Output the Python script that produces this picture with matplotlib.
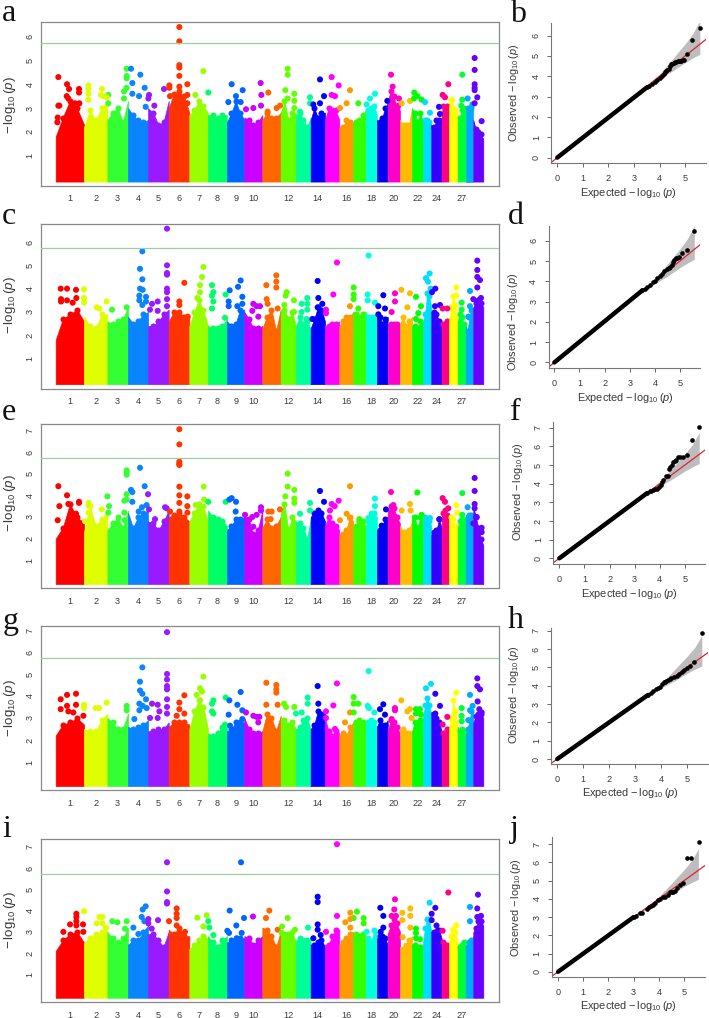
import numpy as np
import matplotlib
matplotlib.use('Agg')
import matplotlib.pyplot as plt

plt.rcParams['font.family'] = ['Liberation Sans', 'DejaVu Sans']
plt.rcParams['mathtext.fontset'] = 'custom'
plt.rcParams['mathtext.rm'] = 'Liberation Sans'
plt.rcParams['mathtext.it'] = 'Liberation Sans:italic'

# Chromosome edges along the genome axis (29 chromosomes)
chrom_edges = [167, 252, 322, 384, 444, 506, 568, 624, 681, 733, 787, 842, 888, 932, 975,
               1018, 1060, 1097, 1131, 1163, 1200, 1236, 1269, 1294, 1325, 1347, 1373,
               1397, 1420, 1450]
chrom_colors = ['#ff0000', '#dfff00', '#33ff33', '#0a84ff', '#9a1aff', '#ff3300', '#99ff00',
                '#00ff66', '#0066ff', '#cc00ff', '#ff6600', '#66ff00', '#00ff99', '#0000ff',
                '#ff00ff', '#ff9900', '#33ff00', '#00ffdd', '#0000ee', '#ff00cc', '#ffbb00',
                '#00ff00', '#00ddff', '#3300ff', '#ff0088', '#ffff00', '#00ff33', '#00aaff',
                '#6600ff']
tick_chroms = [1, 2, 3, 4, 5, 6, 7, 8, 9, 10, 12, 14, 16, 18, 20, 22, 24, 27]
threshold = 5.74

# Height of the solid mass at five places in each chromosome
skyline_a = [[1.8,2.6,3.3,3.0,2.3],[2.2,2.9,2.5,3.0,3.3],[2.5,2.8,3.0,2.4,3.3],[3.0,2.7,2.5,2.4,2.5],
             [3.0,2.8,2.3,2.4,3.3],[3.0,3.6,3.7,3.5,2.8],[2.7,2.9,3.3,3.1,2.8],[2.7,2.7,2.6,2.7,2.7],
             [2.4,2.8,3.3,2.8,2.5],[2.6,2.5,2.3,2.4,2.7],[2.5,2.8,2.6,2.6,2.8],[2.8,3.3,2.5,2.8,2.8],
             [2.7,2.8,2.5,2.2,2.6],[2.5,3.0,2.6,2.8,2.8],[2.5,3.0,2.9,2.9,2.5],[2.2,2.2,2.5,2.4,2.4],
             [2.4,2.4,2.5,2.7,2.9],[2.9,2.9,3.0,3.1,2.7],[2.5,2.4,2.6,3.0,3.2],[3.3,3.7,3.5,3.0,2.9],
             [2.5,2.3,2.3,2.3,3.0],[3.0,2.8,2.4,2.8,2.4],[2.4,2.5,2.5,2.4,2.3],[2.3,2.2,2.5,2.5,2.6],
             [2.8,3.1,3.0,3.1,3.0],[3.1,3.3,3.0,2.9,2.8],[2.4,2.6,2.9,3.0,2.9],[3.0,3.0,3.0,3.0,3.0],
             [2.5,2.1,2.0,1.9,1.7]]
skyline_c = [[1.8,2.7,2.9,3.1,2.6],[2.8,2.4,2.3,2.9,2.9],[2.6,2.5,2.6,2.7,3.2],[2.8,2.5,2.6,2.9,3.0],
             [2.4,2.4,2.6,2.9,3.1],[2.6,3.0,3.0,2.8,2.8],[2.4,3.0,3.5,3.1,2.4],[2.4,2.3,2.3,2.4,2.7],
             [2.6,2.4,2.5,3.1,3.1],[3.0,2.7,2.3,2.3,2.4],[2.3,2.8,3.1,2.2,3.1],[3.0,3.1,2.7,3.0,2.4],
             [2.4,2.8,2.5,2.6,2.3],[2.3,2.7,3.2,3.1,2.6],[2.4,2.4,2.5,2.5,2.6],[2.4,2.6,2.8,2.8,3.0],
             [3.0,2.9,2.8,2.9,3.0],[3.0,2.8,2.8,2.8,2.7],[2.9,2.8,2.5,2.7,2.8],[2.5,2.5,2.5,2.5,2.5],
             [2.5,2.8,2.4,2.6,2.8],[2.4,2.4,2.3,2.6,2.6],[2.6,2.9,3.8,3.7,3.2],[3.0,3.0,2.9,2.6,2.5],
             [2.3,2.5,2.5,2.6,2.6],[2.6,3.2,3.7,3.3,2.6],[2.6,2.9,2.8,2.5,2.4],[2.4,2.2,2.8,3.1,3.2],
             [3.2,3.4,3.4,3.4,3.2]]
skyline_e = [[2.0,2.5,3.6,3.0,2.7],[2.3,3.5,2.6,2.9,3.3],[2.4,2.7,3.0,2.5,3.3],[3.2,2.5,3.0,3.2,3.3],
             [2.8,2.7,2.4,2.8,3.3],[3.0,3.1,3.2,3.0,2.8],[2.8,3.2,3.6,3.5,2.8],[3.3,3.0,2.9,2.8,2.6],
             [2.4,2.6,2.9,2.9,3.0],[3.1,2.9,2.2,2.4,3.3],[2.5,2.9,2.5,2.6,3.0],[3.2,3.6,2.4,3.0,2.8],
             [2.8,2.7,2.5,2.0,2.9],[3.0,3.2,3.3,3.2,2.8],[2.6,3.0,2.7,2.6,2.4],[2.2,2.2,2.4,3.0,2.8],
             [2.6,2.6,2.8,2.8,2.6],[2.6,2.8,3.1,3.2,3.0],[2.4,2.4,2.6,2.9,3.0],[3.3,3.5,3.4,3.0,2.7],
             [2.6,2.3,2.3,2.4,2.8],[3.1,3.0,2.5,3.0,3.1],[3.0,3.0,2.8,2.8,2.6],[2.2,2.3,2.4,2.9,2.5],
             [3.0,3.2,3.3,3.1,3.0],[3.1,3.0,2.9,2.6,2.5],[2.5,2.8,2.9,2.8,2.8],[3.0,3.0,3.1,3.1,3.0],
             [3.5,3.0,2.5,2.0,1.7]]
skyline_g = [[2.2,2.7,2.8,3.0,2.7],[2.5,2.4,2.4,2.9,3.2],[3.0,2.8,2.5,2.5,3.2],[2.6,2.5,2.6,2.7,2.9],
             [2.4,2.4,2.5,2.5,2.8],[2.6,2.8,2.8,2.8,2.7],[2.5,3.3,3.8,3.5,2.5],[2.3,2.2,2.3,2.6,2.7],
             [2.4,2.5,2.8,2.8,2.8],[3.0,2.5,2.3,2.3,2.4],[2.4,3.2,3.0,2.4,3.1],[3.0,2.9,2.7,2.8,2.5],
             [2.5,2.6,2.9,3.0,2.5],[2.5,2.7,3.3,3.2,3.2],[3.0,2.4,2.2,2.4,2.3],[2.2,2.3,2.2,2.6,2.8],
             [2.8,2.8,2.9,2.8,2.8],[2.7,2.8,2.9,2.8,2.6],[2.6,2.9,2.7,2.7,2.9],[2.4,2.9,2.8,2.6,2.3],
             [2.5,2.5,2.3,2.3,2.4],[2.4,2.8,2.7,2.9,3.0],[3.0,3.6,3.9,3.6,3.0],[3.3,3.2,3.0,2.8,2.4],
             [2.2,2.3,2.3,2.5,2.5],[2.5,3.0,3.8,3.3,2.7],[2.6,2.4,2.5,2.4,2.3],[2.2,2.5,2.9,3.3,3.4],
             [2.8,3.1,3.2,3.2,3.0]]
skyline_i = [[2.1,2.6,2.9,3.0,2.5],[2.5,2.7,2.9,3.0,3.1],[3.0,2.7,2.5,2.7,3.2],[2.4,2.6,2.6,3.0,3.3],
             [2.9,2.9,2.6,2.3,3.0],[3.1,2.9,3.2,2.8,2.8],[2.2,2.4,2.6,2.8,2.7],[2.8,2.5,2.3,2.6,2.8],
             [2.5,2.6,2.6,2.7,2.7],[2.8,2.7,2.4,2.6,2.8],[3.2,3.1,2.8,2.3,3.0],[2.9,2.9,2.9,3.0,2.5],
             [2.6,2.7,2.6,2.6,2.7],[2.4,2.4,2.5,2.6,2.3],[2.4,2.4,2.8,3.1,3.1],[2.4,2.5,2.7,2.9,3.0],
             [2.9,2.9,2.8,2.9,2.8],[2.5,2.7,2.5,3.1,3.0],[2.7,2.8,2.8,2.7,2.4],[2.9,3.3,3.6,3.4,3.0],
             [2.3,2.2,2.4,2.6,2.8],[2.4,2.4,2.3,2.3,2.4],[2.5,3.2,3.6,3.6,3.0],[3.0,3.0,3.3,3.1,2.7],
             [2.6,2.5,2.4,2.4,2.5],[2.5,2.8,3.1,3.0,2.5],[2.3,2.3,2.4,2.5,2.6],[2.3,2.3,2.5,2.6,2.8],
             [3.0,3.2,3.5,3.5,3.3]]

# Isolated SNPs above the solid mass: (genome position, -log10 p)
peaks_a = [(175,4.3),(175,3.1),(178,3.1),(173,2.6),(172,2.4),(201,4.0),(207,3.8),(237,3.8),(237,3.65),
           (200,3.5),(205,3.4),(225,3.2),(238,3.2),(265,3.95),(265,3.8),(265,3.6),(265,3.35),(306,3.8),
           (303,3.55),(310,3.5),(325,3.55),(320,3.45),(325,3.2),(380,4.65),(380,4.35),(380,4.25),(380,3.85),
           (372,3.7),(372,3.4),(393,4.65),(397,4.05),(397,3.6),(421,4.4),(434,3.85),(417,3.5),(447,3.55),
           (445,3.4),(437,3.05),(463,3.1),(492,3.8),(508,3.95),(508,3.85),(510,3.5),(538,6.4),(538,5.8),
           (538,4.8),(538,4.7),(538,4.35),(538,3.9),(562,4.0),(562,3.55),(562,3.2),(610,4.55),(625,3.65),
           (586,3.55),(695,4.0),(685,3.25),(728,3.75),(708,3.5),(722,3.25),(782,4.05),(784,3.55),(783,3.1),
           (738,2.95),(760,3.0),(805,3.65),(840,3.1),(830,3.0),(803,2.85),(863,4.65),(863,4.4),(856,3.75),
           (863,3.4),(883,3.6),(883,3.3),(883,3.0),(930,3.45),(930,3.2),(900,2.85),(960,4.2),(972,3.5),
           (940,3.15),(960,3.2),(995,4.3),(1016,3.95),(995,3.55),(1005,3.5),(1050,3.75),(1040,3.2),(1020,3.0),
           (1075,3.2),(1125,3.6),(1110,3.4),(1100,3.15),(1173,4.4),(1178,3.9),(1162,3.3),(1197,3.4),(1195,3.1),
           (1205,3.2),(1230,3.3),(1243,3.65),(1252,3.5),(1265,3.35),(1242,3.4),(1275,3.25),(1290,2.8),
           (1317,3.05),(1320,2.75),(1328,3.55),(1335,3.45),(1345,4.0),(1355,3.35),(1387,4.4),(1387,3.35),
           (1384,3.1),(1403,3.4),(1417,3.15),(1424,5.1),(1424,4.6),(1424,4.0),(1424,3.85),(1424,3.75),
           (1432,3.45),(1424,3.2),(1445,2.45)]
peaks_c = [(182,4.0),(201,4.0),(228,3.95),(252,3.97),(183,3.55),(183,3.45),(201,3.5),(229,3.6),(252,3.6),
           (252,3.4),(218,3.4),(320,3.45),(290,3.2),(298,3.15),(336,3.1),(380,3.2),(427,5.6),(420,4.85),
           (427,4.4),(420,4.0),(428,3.95),(418,3.7),(438,3.65),(418,3.5),(438,3.45),(427,3.3),(456,3.35),
           (473,3.45),(450,3.1),(473,3.05),(501,6.57),(501,5.0),(501,4.67),(501,4.6),(501,4.0),(501,3.85),
           (501,3.55),(501,3.25),(553,4.25),(538,3.45),(538,3.3),(563,2.8),(610,4.93),(606,4.5),(600,4.15),
           (600,3.85),(592,3.6),(636,4.15),(640,3.85),(636,3.7),(640,3.45),(636,3.15),(677,3.75),(675,2.75),
           (689,3.93),(686,3.45),(686,3.25),(722,4.35),(714,4.08),(727,3.65),(727,3.35),(712,3.25),(760,3.35),
           (770,3.25),(780,3.25),(757,3.05),(775,2.8),(799,4.15),(800,3.55),(803,3.35),(829,4.57),(829,4.3),
           (829,4.05),(833,3.15),(860,3.85),(857,3.7),(853,3.3),(882,3.5),(882,3.0),(905,3.35),(922,3.6),
           (922,3.35),(922,3.1),(905,3.0),(920,2.7),(953,4.33),(955,3.6),(967,3.35),(953,3.2),(937,2.7),
           (978,3.1),(978,2.95),(1011,5.12),(1000,3.75),(1050,3.25),(1061,4.05),(1061,3.75),(1061,3.55),
           (1075,3.15),(1106,5.42),(1103,3.75),(1103,3.5),(1125,3.4),(1150,3.72),(1135,3.25),(1155,3.15),
           (1135,2.9),(1185,3.8),(1185,3.45),(1175,3.0),(1204,3.95),(1222,3.2),(1230,3.8),(1248,3.65),
           (1263,3.25),(1255,2.95),(1248,2.7),(1278,4.45),(1289,4.65),(1284,4.3),(1292,4.0),(1296,3.85),
           (1306,4.0),(1320,3.3),(1305,3.25),(1328,3.15),(1342,3.15),(1369,4.05),(1369,3.7),(1385,3.4),
           (1385,3.1),(1410,3.9),(1420,3.55),(1410,3.25),(1405,2.8),(1432,5.2),(1432,4.8),(1432,4.5),
           (1440,4.37),(1432,4.05),(1443,3.6),(1435,3.5)]
peaks_e = [(175,4.42),(178,3.5),(173,2.85),(201,4.0),(237,3.7),(237,3.65),(205,3.6),(228,3.15),(246,2.7),
           (266,3.65),(266,3.5),(266,3.2),(255,2.8),(272,2.9),(305,3.35),(322,3.95),(327,3.5),(325,3.2),
           (380,5.15),(380,5.05),(380,4.95),(380,4.05),(380,3.8),(373,3.75),(373,3.2),(373,2.85),(393,4.25),
           (397,4.15),(397,3.7),(420,5.27),(434,4.42),(444,4.05),(426,3.45),(416,3.25),(440,3.55),(447,3.35),
           (465,2.9),(495,3.45),(500,3.4),(510,3.25),(538,7.05),(538,6.35),(538,5.55),(538,5.45),(538,5.4),
           (538,4.4),(538,4.0),(538,3.65),(538,3.25),(562,3.95),(562,3.5),(562,3.2),(611,4.4),(612,3.8),
           (587,3.55),(625,3.7),(677,3.7),(688,3.8),(695,3.87),(708,3.7),(707,3.25),(735,3.1),(757,3.0),
           (770,3.1),(783,3.45),(783,3.3),(760,2.55),(805,3.25),(815,3.25),(840,3.35),(812,2.9),(863,5.0),
           (863,4.4),(856,3.95),(883,4.25),(883,3.85),(883,3.65),(900,3.15),(930,3.65),(930,3.3),(960,4.2),
           (972,3.7),(990,3.3),(995,3.6),(1004,3.5),(1016,3.75),(1020,2.85),(1050,4.42),(1040,3.15),(1050,2.95),
           (1078,2.9),(1125,3.85),(1125,3.5),(1115,3.15),(1105,2.95),(1158,3.35),(1145,2.6),(1173,4.15),
           (1180,3.55),(1205,3.3),(1230,3.6),(1232,3.3),(1252,4.13),(1265,3.1),(1290,2.95),(1318,2.9),
           (1328,3.87),(1335,3.7),(1345,3.4),(1369,3.55),(1372,3.2),(1387,4.1),(1387,3.1),(1403,3.45),
           (1424,4.8),(1424,4.2),(1424,3.6),(1424,3.4),(1430,3.0),(1445,2.5),(1445,2.3),(1420,2.7)]
peaks_g = [(182,3.85),(201,4.05),(228,4.1),(182,3.4),(201,3.55),(228,3.6),(205,3.3),(220,3.25),(252,3.6),
           (252,3.45),(250,3.1),(287,3.45),(297,3.45),(320,3.7),(380,3.55),(380,3.35),(403,2.95),(427,5.3),
           (420,4.65),(420,4.25),(427,4.1),(418,3.65),(438,3.85),(428,3.55),(440,3.45),(418,3.35),(456,3.65),
           (473,3.6),(450,3.0),(473,3.0),(478,3.3),(501,6.9),(501,5.0),(501,4.75),(501,4.45),(501,4.3),
           (501,3.85),(501,3.5),(501,3.2),(553,4.03),(538,3.7),(538,3.4),(553,3.2),(530,3.1),(610,4.88),
           (600,4.35),(606,4.2),(590,4.05),(600,3.8),(640,3.8),(636,3.65),(636,3.3),(640,3.2),(677,3.93),
           (688,3.8),(686,3.15),(675,2.7),(690,2.65),(722,4.18),(712,3.6),(727,3.35),(727,2.95),(760,3.1),
           (770,3.05),(778,3.05),(775,2.8),(738,3.25),(799,4.6),(799,3.6),(829,4.5),(829,4.3),(829,4.15),
           (833,3.6),(852,3.65),(858,3.5),(883,3.5),(888,3.2),(923,3.93),(923,3.65),(905,3.25),(953,4.45),
           (955,3.65),(978,3.3),(978,3.0),(1011,4.57),(1000,3.57),(1005,2.5),(1050,3.25),(1035,2.8),(1061,3.95),
           (1061,3.65),(1075,3.65),(1061,3.25),(1106,5.13),(1103,3.55),(1107,3.45),(1123,3.25),(1150,3.62),
           (1140,3.4),(1155,3.15),(1204,3.8),(1185,3.45),(1185,3.35),(1175,2.95),(1222,3.3),(1230,3.4),
           (1235,3.0),(1248,3.4),(1260,3.4),(1248,3.2),(1263,3.15),(1278,4.35),(1293,4.55),(1306,4.1),
           (1320,3.55),(1306,3.2),(1328,2.7),(1342,3.05),(1369,4.15),(1385,3.45),(1385,3.1),(1385,2.85),
           (1410,4.05),(1418,3.55),(1410,3.35),(1405,2.9),(1432,4.8),(1432,4.45),(1440,4.3),(1433,3.75),
           (1438,3.4),(1445,3.25)]
peaks_i = [(190,3.0),(210,3.35),(229,3.85),(229,3.7),(229,3.5),(229,3.3),(252,3.97),(249,3.35),(250,3.0),
           (298,3.7),(307,3.7),(290,3.4),(307,3.4),(318,3.2),(337,3.5),(352,3.45),(380,3.5),(375,3.15),
           (400,3.2),(415,2.9),(437,4.2),(428,4.05),(425,3.7),(433,3.5),(445,3.6),(445,3.4),(474,3.55),
           (455,3.15),(501,6.27),(501,4.9),(501,4.4),(501,4.33),(507,3.5),(530,4.1),(530,3.85),(530,3.65),
           (530,3.3),(555,3.0),(592,3.67),(620,3.78),(625,3.5),(610,3.25),(628,3.2),(640,2.85),(689,4.0),
           (723,6.27),(709,3.3),(732,3.65),(682,3.05),(687,2.95),(725,2.95),(710,2.7),(759,3.72),(808,4.0),
           (798,3.65),(833,3.1),(863,3.65),(846,3.25),(845,2.95),(885,3.1),(924,3.2),(953,4.65),(953,4.4),
           (953,3.35),(953,3.1),(940,2.7),(962,2.85),(1011,7.12),(1011,3.75),(978,3.0),(1051,3.9),(1061,3.65),
           (1051,3.6),(1036,3.45),(1051,3.2),(1071,3.95),(1091,3.65),(1091,3.4),(1100,3.0),(1141,4.13),
           (1150,3.75),(1150,3.2),(1142,3.0),(1185,4.53),(1183,4.05),(1175,3.75),(1188,3.75),(1207,3.9),
           (1207,3.55),(1231,4.1),(1231,3.75),(1231,3.2),(1208,2.75),(1248,3.15),(1248,2.95),(1248,2.7),
           (1260,2.65),(1289,4.37),(1306,4.13),(1295,3.85),(1295,3.55),(1328,3.05),(1345,4.85),(1369,3.3),
           (1360,3.1),(1410,4.17),(1410,3.5),(1434,4.75),(1432,4.1),(1443,3.75),(1432,3.7)]

# QQ plots: expected and observed of the upper tail
qq_exp_b = [3.5,3.6,3.7,3.8,3.9,4.0,4.1,4.15,4.2,4.25,4.3,4.35,4.4,4.45,4.5,4.55,4.6,4.65,4.7,4.75,4.8,4.85,4.9,4.95,5.08,5.26,5.56]
qq_obs_b = [3.45,3.52,3.6,3.7,3.8,3.9,4.0,4.1,4.2,4.25,4.3,4.35,4.5,4.6,4.62,4.65,4.7,4.72,4.75,4.75,4.74,4.75,4.78,4.8,5.1,5.77,6.38]
qq_exp_d = [3.5,3.6,3.7,3.8,3.94,4.0,4.1,4.2,4.3,4.38,4.47,4.55,4.6,4.67,4.73,4.78,4.84,4.9,4.96,5.09,5.28,5.57]
qq_obs_d = [3.55,3.62,3.72,3.82,3.95,4.03,4.15,4.28,4.38,4.5,4.59,4.65,4.7,4.8,4.93,5.03,5.13,5.15,5.18,5.41,5.56,6.5]
qq_exp_f = [3.5,3.6,3.65,3.72,3.8,3.87,3.95,4.03,4.08,4.14,4.23,4.34,4.38,4.42,4.47,4.54,4.6,4.64,4.73,4.8,4.91,5.09,5.27,5.57]
qq_obs_f = [3.5,3.6,3.63,3.67,3.7,3.71,3.8,3.93,4.08,4.2,4.41,4.43,4.79,4.88,5.0,5.14,5.2,5.27,5.45,5.43,5.41,5.54,6.34,7.04]
qq_exp_h = [3.5,3.6,3.7,3.8,3.9,3.96,4.03,4.1,4.15,4.2,4.28,4.34,4.4,4.5,4.6,4.68,4.79,4.88,4.99,5.12,5.28,5.58]
qq_obs_h = [3.5,3.6,3.7,3.8,3.9,3.95,4.08,4.18,4.23,4.27,4.33,4.37,4.42,4.48,4.55,4.65,4.77,4.85,4.95,5.1,5.28,6.9]
qq_exp_j = [3.0,3.1,3.25,3.35,3.52,3.6,3.7,3.78,3.85,3.98,4.05,4.18,4.25,4.38,4.45,4.51,4.58,4.64,4.72,4.84,4.95,5.1,5.28,5.58]
qq_obs_j = [3.0,3.07,3.2,3.25,3.42,3.55,3.6,3.66,3.8,3.94,4.0,4.08,4.12,4.21,4.38,4.4,4.38,4.43,4.6,4.76,4.89,6.25,6.25,7.11]
# Confidence band
band_exp = [0, 3, 3.5, 4, 4.5, 5, 5.3, 5.57]
band_low = [0, 2.97, 3.44, 3.88, 4.25, 4.68, 4.9, 5.08]
band_high = [0, 3.03, 3.56, 4.12, 4.85, 5.6, 6.1, 6.75]

W, H = 709, 1018
fig = plt.figure(figsize=(W / 100, H / 100), dpi=100)
GRAY = '#888888'
TEXT = '#3a3a3a'
LOG = r'$\mathrm{-\,log}_{10}\,(\mathit{p})$'


def px_axes(left, top, right, bottom):
    return fig.add_axes([left / W, 1 - bottom / H, (right - left) / W, (bottom - top) / H])


def px_text(x, y, s, **kw):
    fig.text(x / W, 1 - y / H, s, **kw)


def manhattan(top, bottom, ylim, yticks, skyline, peaks, ylabel_y):
    ax = px_axes(40.7, top, 499.3, bottom)
    base = ylim[0] * 0.32
    for i, heights in enumerate(skyline):
        xs = np.linspace(chrom_edges[i], chrom_edges[i + 1], len(heights))
        ax.fill_between(xs, base, heights, color=chrom_colors[i], lw=0.5, zorder=2 + i * 0.01)
        ax.scatter(xs[1:-1], heights[1:-1], s=19, color=chrom_colors[i], lw=0, zorder=2 + i * 0.01)
    peak_x = [p[0] for p in peaks]
    peak_y = [p[1] for p in peaks]
    idx = np.clip(np.searchsorted(chrom_edges, peak_x, side='right') - 1, 0, 28)
    ax.scatter(peak_x, peak_y, s=19, c=[chrom_colors[k] for k in idx], lw=0, zorder=3)
    ax.axhline(threshold, color='#9ccf9c', lw=0.9, zorder=4)
    ax.set_xlim(122, 1498)
    ax.set_ylim(*ylim)
    mids = [(chrom_edges[c - 1] + chrom_edges[c]) / 2 for c in tick_chroms]
    ax.set_xticks(mids, [str(c) for c in tick_chroms])
    ax.set_yticks(yticks, [str(t) for t in yticks])
    ax.tick_params(axis='x', length=0, pad=6, labelsize=6.6, labelcolor=TEXT)
    ax.tick_params(axis='y', length=0, pad=4.5, labelsize=6.6, labelcolor=TEXT, labelrotation=90)
    for t in ax.get_yticklabels():
        t.set_va('center')
    for s in ax.spines.values():
        s.set_color(GRAY)
        s.set_linewidth(0.9)
    px_text(9.5, ylabel_y, LOG, rotation=90, ha='center', va='center', fontsize=9.6, color=TEXT)


def qq(left, top, right, bottom, xlim, ylim, yticks, qexp, qobs, xlabel_x, xlabel_y, ylabel_x, ylabel_y):
    ax = px_axes(left, top, right, bottom)
    ax.fill_between(band_exp, band_low, band_high, color='#bdbdbd', lw=0, zorder=1)
    ax.plot(xlim, xlim, color='#e0203a', lw=0.9, zorder=2)
    ax.plot([0, qexp[0]], [0, qobs[0]], color='black', lw=3.2, solid_capstyle='round', zorder=3)
    ax.scatter(qexp, qobs, s=11, color='black', lw=0, zorder=4)
    ax.set_xlim(*xlim)
    ax.set_ylim(*ylim)
    ax.set_xticks(range(6))
    ax.set_yticks(yticks)
    ax.tick_params(axis='x', length=3, width=0.7, color='#666666', pad=5, labelsize=6.6, labelcolor=TEXT)
    ax.tick_params(axis='y', length=3, width=0.7, color='#666666', pad=4.5, labelsize=6.6, labelcolor=TEXT,
                   labelrotation=90)
    for t in ax.get_yticklabels():
        t.set_va('center')
    ax.spines['top'].set_visible(False)
    ax.spines['right'].set_visible(False)
    ax.spines['left'].set_color('#777777')
    ax.spines['bottom'].set_color('#777777')
    ax.spines['left'].set_linewidth(0.8)
    ax.spines['bottom'].set_linewidth(0.8)
    px_text(xlabel_x, xlabel_y, 'Expected ' + LOG, ha='center', va='center', fontsize=7.9, color=TEXT)
    px_text(ylabel_x, ylabel_y, 'Observed ' + LOG, rotation=90, ha='center', va='center', fontsize=7.9, color=TEXT)


manhattan(22.3, 186, (-0.274, 6.60), [1, 2, 3, 4, 5, 6], skyline_a, peaks_a, 105)
manhattan(224.3, 388.7, (-0.286, 6.757), [1, 2, 3, 4, 5, 6], skyline_c, peaks_c, 305)
manhattan(424.3, 588.3, (-0.292, 7.277), [1, 2, 3, 4, 5, 6, 7], skyline_e, peaks_e, 503)
manhattan(626.3, 790.3, (-0.288, 7.167), [1, 2, 3, 4, 5, 6, 7], skyline_g, peaks_g, 708)
manhattan(838.7, 1002.3, (-0.313, 7.38), [1, 2, 3, 4, 5, 6, 7], skyline_i, peaks_i, 920)

qq(551.3, 23.3, 706, 163.3, (-0.234, 5.81), (-0.28, 6.6), [0, 1, 2, 3, 4, 5, 6], qq_exp_b, qq_obs_b, 628, 193, 514, 93)
qq(548.7, 225.7, 700.3, 367.7, (-0.225, 5.81), (-0.26, 6.74), [0, 1, 2, 3, 4, 5, 6], qq_exp_d, qq_obs_d, 625, 398, 513, 322)
qq(553.3, 422.3, 705, 563.7, (-0.24, 5.8), (-0.29, 7.29), [0, 1, 2, 3, 4, 5, 6, 7], qq_exp_f, qq_obs_f, 629, 594, 518, 492)
qq(551.3, 627.7, 708.3, 764.3, (-0.23, 5.82), (-0.29, 7.17), [0, 1, 2, 3, 4, 5, 6, 7], qq_exp_h, qq_obs_h, 630, 793, 514, 695)
qq(552, 837.3, 704.7, 976.7, (-0.24, 5.82), (-0.27, 7.38), [0, 1, 2, 3, 4, 5, 6, 7], qq_exp_j, qq_obs_j, 628, 1006, 516, 908)

# Panel letters
letters = ['a', 'b', 'c', 'd', 'e', 'f', 'g', 'h', 'i', 'j']
letter_x = [2, 510, 2, 508, 2, 510, 3, 508, 2, 510]
letter_y = [21, 22, 224, 224, 420, 420, 629, 628, 837, 837]
for s, x, y in zip(letters, letter_x, letter_y):
    px_text(x, y, s, family='Liberation Serif', fontsize=23, color='#111111', ha='left', va='baseline')

fig.savefig('out.png', dpi=100)
